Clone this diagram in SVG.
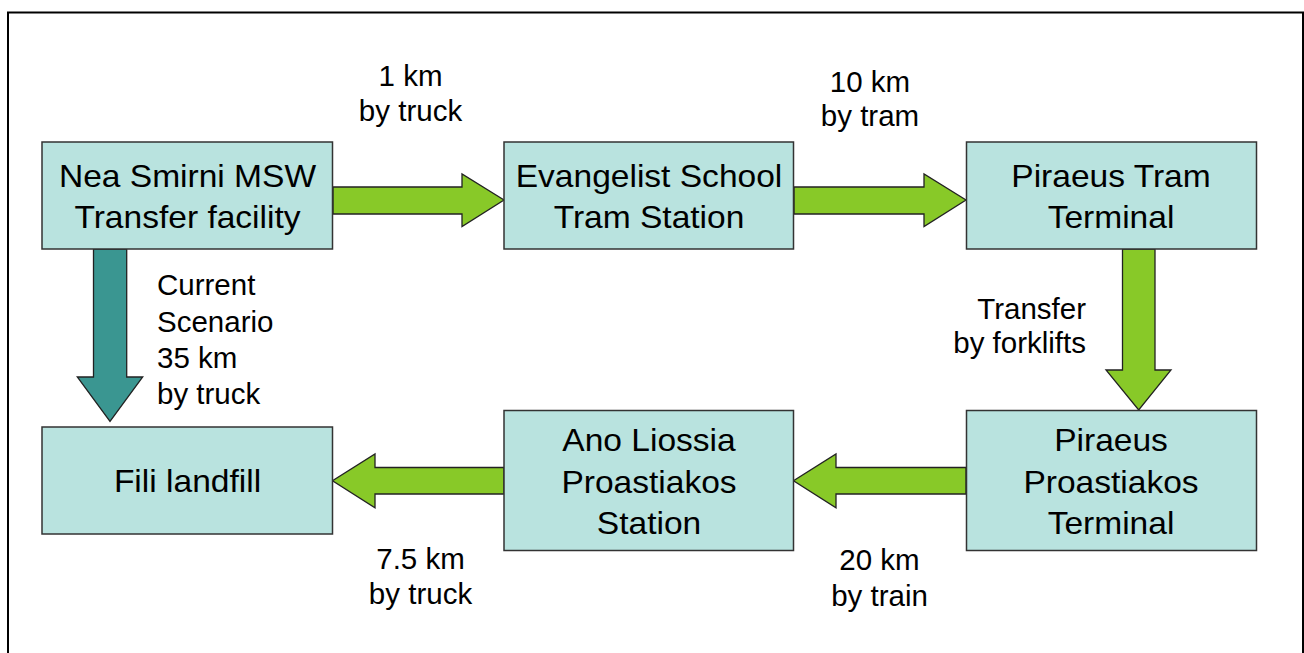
<svg xmlns="http://www.w3.org/2000/svg" width="1304" height="653" viewBox="0 0 1304 653">
<style>
.node{fill:#B9E3DF;stroke:#333;stroke-width:1.5}
.ga{fill:#88C928;stroke:#222;stroke-width:1.3;stroke-linejoin:miter}
.ta{fill:#3A9691;stroke:#222;stroke-width:1.3}
.nt{font-family:"Liberation Sans",Arial,sans-serif;font-size:30.5px;fill:#000;text-anchor:middle}
.lb{font-family:"Liberation Sans",Arial,sans-serif;font-size:29.5px;fill:#000}
</style>
<rect x="8" y="12.5" width="1295" height="660" fill="#fff" stroke="#000" stroke-width="2"/>
<g id="connectors">
<polygon class="ga" points="333,187 462,187 462,174 504,200 462,226.5 462,214 333,214"/>
<polygon class="ga" points="794,187 924,187 924,174 966,200 924,226.5 924,214 794,214"/>
<polygon class="ga" points="1122.5,249 1155,249 1155,370 1171,370 1138.7,410 1106,370 1122.5,370"/>
<polygon class="ga" points="966,467.5 836,467.5 836,454 793.5,480.7 836,507.7 836,494 966,494"/>
<polygon class="ga" points="504,467.5 375,467.5 375,454 332.5,480.7 375,507.7 375,494 504,494"/>
<polygon class="ta" points="93.5,249 126.7,249 126.7,377 142.7,377 110,421.5 77.3,377 93.5,377"/>
</g>
<g id="n1"><rect class="node" x="42" y="142" width="290.5" height="107"/>
<text class="nt" transform="translate(187.5,187) scale(1.1,1)">Nea Smirni MSW</text>
<text class="nt" transform="translate(187.5,228) scale(1.1,1)">Transfer facility</text></g>
<g id="n2"><rect class="node" x="504" y="142" width="289.5" height="107"/>
<text class="nt" transform="translate(649,187) scale(1.1,1)">Evangelist School</text>
<text class="nt" transform="translate(649,228) scale(1.1,1)">Tram Station</text></g>
<g id="n3"><rect class="node" x="966.5" y="142" width="290" height="107"/>
<text class="nt" transform="translate(1111,187) scale(1.1,1)">Piraeus Tram</text>
<text class="nt" transform="translate(1111,228) scale(1.1,1)">Terminal</text></g>
<g id="n4"><rect class="node" x="42" y="427" width="290.5" height="107"/>
<text class="nt" transform="translate(187.5,492) scale(1.1,1)">Fili landfill</text></g>
<g id="n5"><rect class="node" x="504" y="410.5" width="289.5" height="140"/>
<text class="nt" transform="translate(649,451) scale(1.1,1)">Ano Liossia</text>
<text class="nt" transform="translate(649,493) scale(1.1,1)">Proastiakos</text>
<text class="nt" transform="translate(649,534) scale(1.1,1)">Station</text></g>
<g id="n6"><rect class="node" x="966.5" y="410.5" width="290" height="140"/>
<text class="nt" transform="translate(1111,451) scale(1.1,1)">Piraeus</text>
<text class="nt" transform="translate(1111,493) scale(1.1,1)">Proastiakos</text>
<text class="nt" transform="translate(1111,534) scale(1.1,1)">Terminal</text></g>
<g id="labels">
<text class="lb" x="410.5" y="86" text-anchor="middle">1 km</text>
<text class="lb" x="410.5" y="120.5" text-anchor="middle">by truck</text>
<text class="lb" x="870" y="92" text-anchor="middle">10 km</text>
<text class="lb" x="870" y="126" text-anchor="middle">by tram</text>
<text class="lb" x="157" y="295">Current</text>
<text class="lb" x="157" y="331.5">Scenario</text>
<text class="lb" x="157" y="368">35 km</text>
<text class="lb" x="157" y="404">by truck</text>
<text class="lb" x="1086" y="318.5" text-anchor="end">Transfer</text>
<text class="lb" x="1086" y="353" text-anchor="end">by forklifts</text>
<text class="lb" x="420.5" y="568.5" text-anchor="middle">7.5 km</text>
<text class="lb" x="420.5" y="604" text-anchor="middle">by truck</text>
<text class="lb" x="879.5" y="570" text-anchor="middle">20 km</text>
<text class="lb" x="879.5" y="605.5" text-anchor="middle">by train</text>
</g>
</svg>
